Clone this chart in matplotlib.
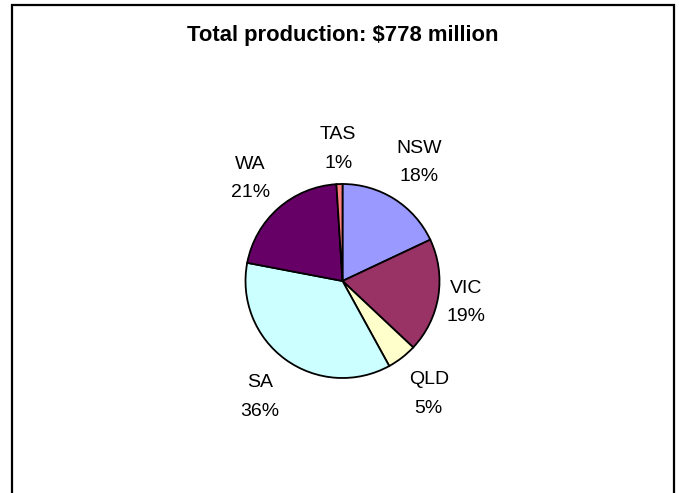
import matplotlib.pyplot as plt
import numpy as np
from matplotlib.patches import Rectangle

# production share by state (%)
states = ["NSW", "VIC", "QLD", "SA", "WA", "TAS"]
shares = [18, 19, 5, 36, 21, 1]
colors = ["#9999FF", "#993366", "#FFFFCC", "#CCFFFF", "#660066", "#FF8080"]
title = "Total production: $778 million"

# how far each label sits from the centre, in pie radii
label_dist = [1.47, 1.29, 1.45, 1.45, 1.44, 1.38]

W, H = 679, 493
fig = plt.figure(figsize=(W / 100, H / 100), dpi=100)
ax = fig.add_axes([0, 0, 1, 1])

plt.rcParams["font.family"] = ["Liberation Sans", "DejaVu Sans"]

cx, cy, r = 342.5, H - 281, 97
wedges, _ = ax.pie(shares, colors=colors, startangle=90, counterclock=False,
                   center=(cx, cy), radius=r, frame=True,
                   wedgeprops=dict(edgecolor="black", linewidth=1.3))
ax.set_xlim(0, W)
ax.set_ylim(0, H)
ax.set_aspect("equal")
ax.axis("off")

for w, name, pct, k in zip(wedges, states, shares, label_dist):
    mid = np.deg2rad((w.theta1 + w.theta2) / 2)
    x = cx + k * r * np.cos(mid)
    y = cy + k * r * np.sin(mid)
    ax.text(x, y - 2, f"{name}\n{pct}%", ha="center", va="center", fontsize=14,
            linespacing=1.88, family=["Liberation Sans", "DejaVu Sans"])

ax.text(cx, H - 41, title, ha="center", va="baseline", fontsize=15.8,
        fontweight="bold", family=["Liberation Sans", "DejaVu Sans"])

# chart area border (open at the bottom edge)
ax.add_patch(Rectangle((12, -10), 662, H - 5 + 10, fill=False,
                       edgecolor="black", linewidth=1.6, clip_on=False))

fig.savefig("out.png", dpi=100)
